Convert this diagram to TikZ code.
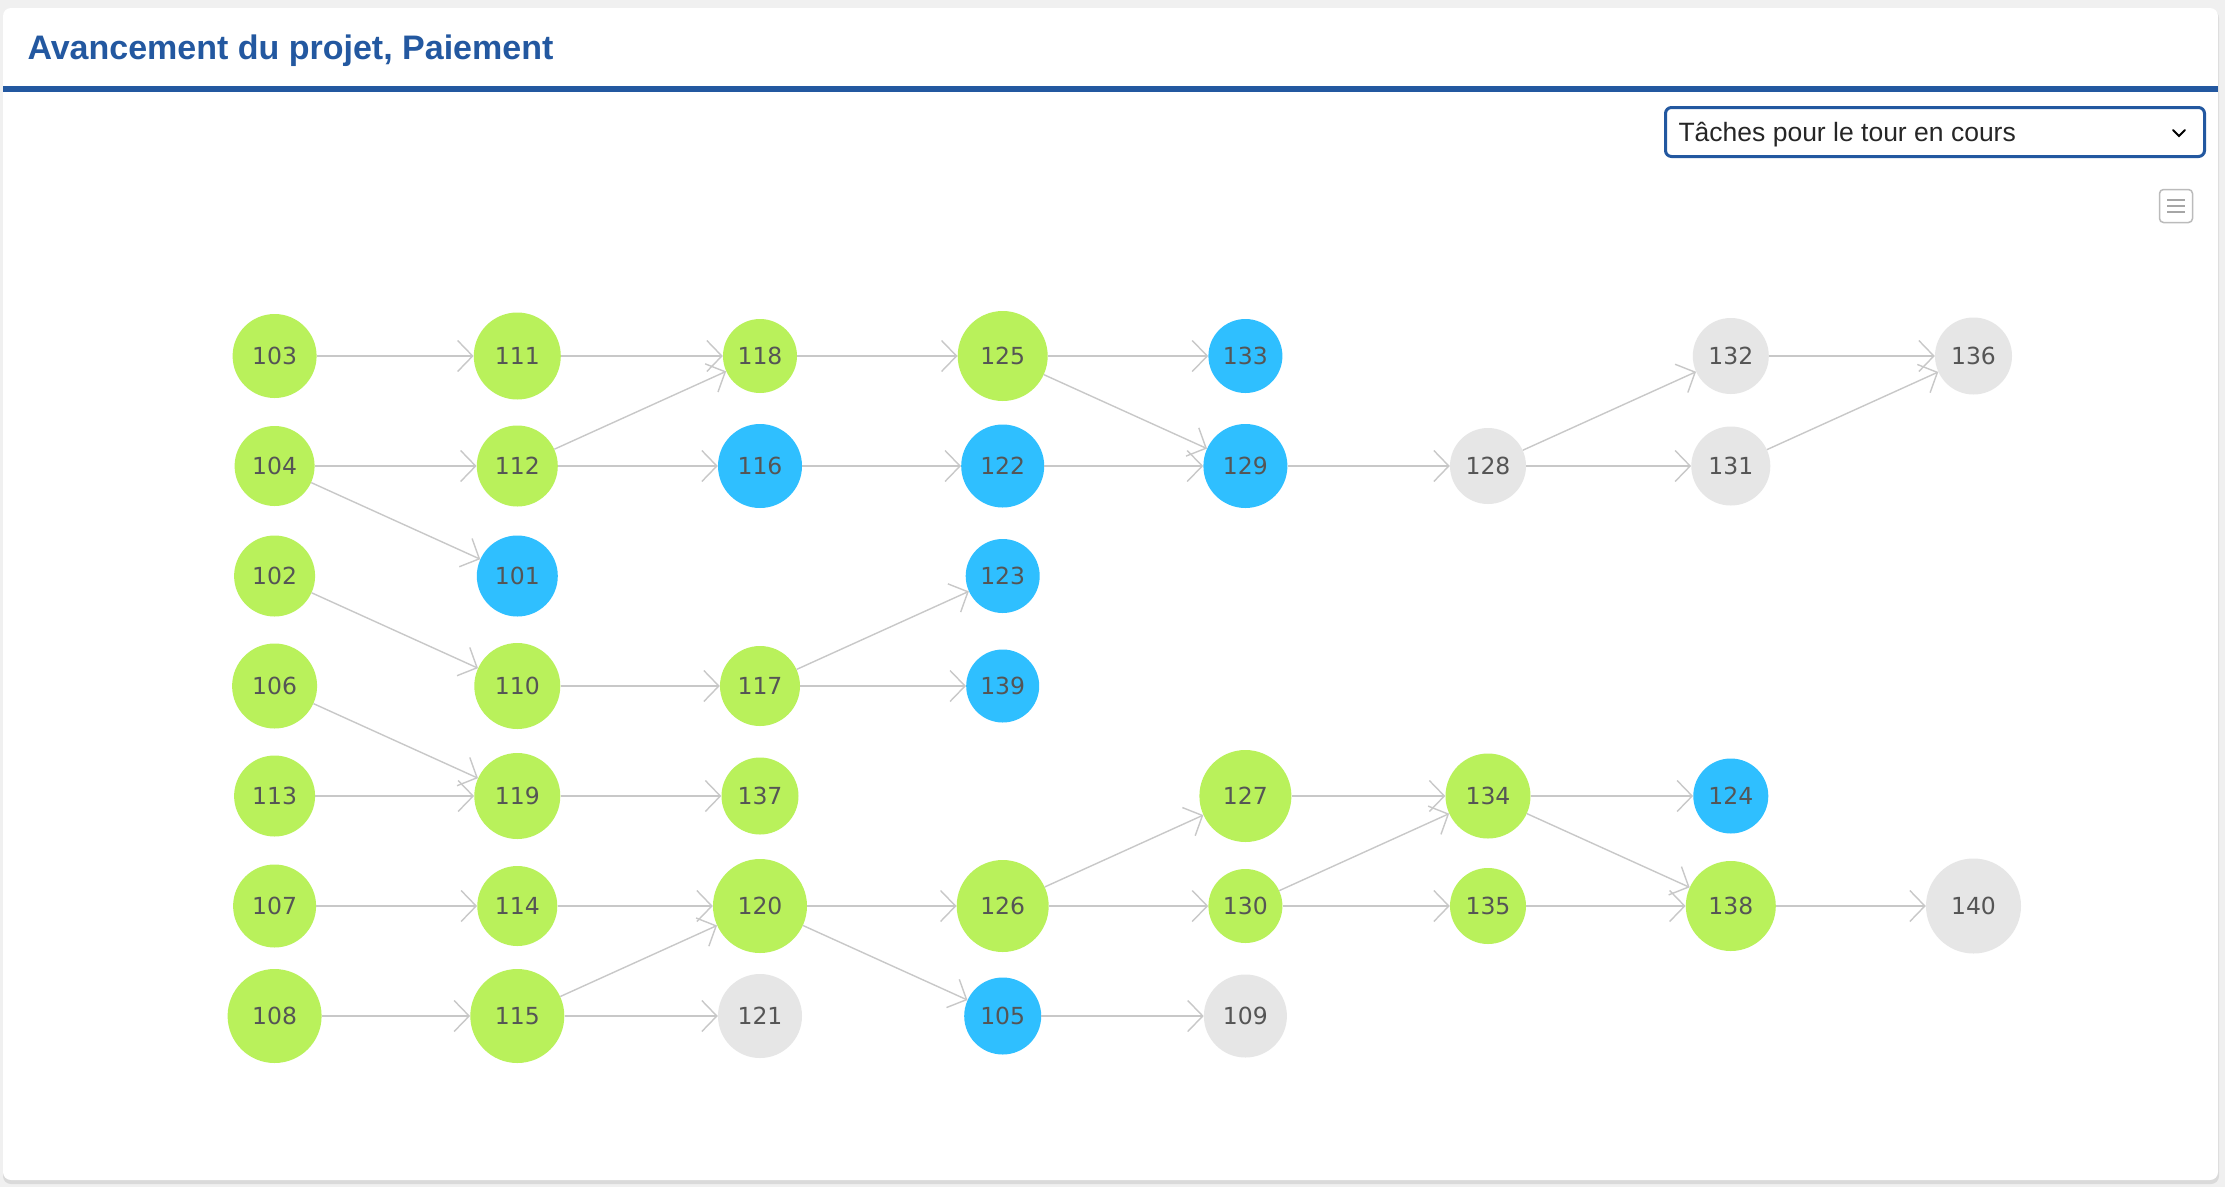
\documentclass[tikz,border=0pt]{standalone}
\usepackage{fontspec}
\setmainfont{Liberation Sans}
\newfontfamily\nodefont{DejaVu Sans}
\usetikzlibrary{arrows.meta}
\definecolor{pagegray}{HTML}{F0F0F0}
\definecolor{shadowgray}{HTML}{DADADA}
\definecolor{titleblue}{HTML}{2358A0}
\definecolor{taskgreen}{HTML}{B9F15B}
\definecolor{taskblue}{HTML}{2FBFFF}
\definecolor{taskgray}{HTML}{E6E6E6}
\definecolor{edgegray}{HTML}{C8C8C8}
\definecolor{labelgray}{HTML}{555555}
\definecolor{menugray}{HTML}{BBBBBB}
\tikzset{>={Straight Barb[length=15pt,width=31pt]}}
\tikzset{
  task/.style={circle, inner sep=0pt, text=labelgray, font=\nodefont\fontsize{23.5}{28}\selectfont},
  done/.style={task, fill=taskgreen},
  running/.style={task, fill=taskblue},
  waiting/.style={task, fill=taskgray},
  link/.style={draw=edgegray, line width=1.4pt, ->}
}

\begin{document}
\begin{tikzpicture}[x=1pt, y=-1pt]
      % page and panel
      \fill[pagegray] (0,0) rectangle (2225,1187);
      \useasboundingbox (0,0) rectangle (2225,1187);
      \fill[shadowgray, rounded corners=8pt] (3,10) rectangle (2219,1184);
      \fill[white, rounded corners=8pt] (3,8) rectangle (2218,1180);
      % header
      \node[anchor=base west, text=titleblue, font=\fontsize{34}{40}\selectfont\bfseries] (title) at (24,59) {Avancement du projet, Paiement};
      \fill[titleblue] (3,86) rectangle (2218,92);
      % select box
      \node[draw=titleblue, line width=3pt, rounded corners=6pt, minimum width=539pt, minimum height=49pt, inner sep=0pt] (select) at (1935,132) {};
      \node[anchor=base west, text=black!85, font=\fontsize{26.5}{32}\selectfont] (selecttext) at (1675,141.7) {Tâches pour le tour en cours};
      \draw[line width=2pt, line cap=round] (2173,130) -- (2179,136) -- (2185,130);
      % menu icon
      \node[draw=menugray, line width=1.5pt, rounded corners=4pt, minimum size=33pt, inner sep=0pt] (menu) at (2176,206) {};
      \draw[gray!70, line width=1.6pt] (2167,200) -- (2185,200);
      \draw[gray!70, line width=1.6pt] (2167,206) -- (2185,206);
      \draw[gray!70, line width=1.6pt] (2167,212) -- (2185,212);
      % row 1
      \node[done, minimum size=84pt] (n103) at (274.6,356) {103};
      \node[done, minimum size=87pt] (n111) at (517.3,356) {111};
      \node[done, minimum size=74pt] (n118) at (760,356) {118};
      \node[done, minimum size=90pt] (n125) at (1002.7,356) {125};
      \node[running, minimum size=74pt] (n133) at (1245.4,356) {133};
      \node[waiting, minimum size=76pt] (n132) at (1730.8,356) {132};
      \node[waiting, minimum size=77pt] (n136) at (1973.5,356) {136};
      % row 2
      \node[done, minimum size=80pt] (n104) at (274.6,466) {104};
      \node[done, minimum size=81pt] (n112) at (517.3,466) {112};
      \node[running, minimum size=84pt] (n116) at (760,466) {116};
      \node[running, minimum size=83pt] (n122) at (1002.7,466) {122};
      \node[running, minimum size=84pt] (n129) at (1245.4,466) {129};
      \node[waiting, minimum size=76pt] (n128) at (1488,466) {128};
      \node[waiting, minimum size=79pt] (n131) at (1730.8,466) {131};
      % row 3
      \node[done, minimum size=81pt] (n102) at (274.6,576) {102};
      \node[running, minimum size=81pt] (n101) at (517.3,576) {101};
      \node[running, minimum size=74pt] (n123) at (1002.7,576) {123};
      % row 4
      \node[done, minimum size=85pt] (n106) at (274.6,686) {106};
      \node[done, minimum size=86pt] (n110) at (517.3,686) {110};
      \node[done, minimum size=80pt] (n117) at (760,686) {117};
      \node[running, minimum size=73pt] (n139) at (1002.7,686) {139};
      % row 5
      \node[done, minimum size=81pt] (n113) at (274.6,796) {113};
      \node[done, minimum size=86pt] (n119) at (517.3,796) {119};
      \node[done, minimum size=77pt] (n137) at (760,796) {137};
      \node[done, minimum size=92pt] (n127) at (1245.4,796) {127};
      \node[done, minimum size=85pt] (n134) at (1488,796) {134};
      \node[running, minimum size=75pt] (n124) at (1730.8,796) {124};
      % row 6
      \node[done, minimum size=83pt] (n107) at (274.6,906) {107};
      \node[done, minimum size=80pt] (n114) at (517.3,906) {114};
      \node[done, minimum size=94pt] (n120) at (760,906) {120};
      \node[done, minimum size=92pt] (n126) at (1002.7,906) {126};
      \node[done, minimum size=74pt] (n130) at (1245.4,906) {130};
      \node[done, minimum size=76pt] (n135) at (1488,906) {135};
      \node[done, minimum size=90pt] (n138) at (1730.8,906) {138};
      \node[waiting, minimum size=95pt] (n140) at (1973.5,906) {140};
      % row 7
      \node[done, minimum size=94pt] (n108) at (274.6,1016) {108};
      \node[done, minimum size=94pt] (n115) at (517.3,1016) {115};
      \node[waiting, minimum size=84pt] (n121) at (760,1016) {121};
      \node[running, minimum size=77pt] (n105) at (1002.7,1016) {105};
      \node[waiting, minimum size=83pt] (n109) at (1245.4,1016) {109};
      % links
      \draw[link] (n103) -- (n111);
      \draw[link] (n111) -- (n118);
      \draw[link] (n118) -- (n125);
      \draw[link] (n125) -- (n133);
      \draw[link] (n125) -- (n129);
      \draw[link] (n104) -- (n112);
      \draw[link] (n104) -- (n101);
      \draw[link] (n112) -- (n118);
      \draw[link] (n112) -- (n116);
      \draw[link] (n116) -- (n122);
      \draw[link] (n122) -- (n129);
      \draw[link] (n129) -- (n128);
      \draw[link] (n128) -- (n132);
      \draw[link] (n128) -- (n131);
      \draw[link] (n132) -- (n136);
      \draw[link] (n131) -- (n136);
      \draw[link] (n102) -- (n110);
      \draw[link] (n110) -- (n117);
      \draw[link] (n117) -- (n123);
      \draw[link] (n117) -- (n139);
      \draw[link] (n106) -- (n119);
      \draw[link] (n113) -- (n119);
      \draw[link] (n119) -- (n137);
      \draw[link] (n107) -- (n114);
      \draw[link] (n114) -- (n120);
      \draw[link] (n108) -- (n115);
      \draw[link] (n115) -- (n120);
      \draw[link] (n115) -- (n121);
      \draw[link] (n120) -- (n126);
      \draw[link] (n120) -- (n105);
      \draw[link] (n105) -- (n109);
      \draw[link] (n126) -- (n127);
      \draw[link] (n126) -- (n130);
      \draw[link] (n127) -- (n134);
      \draw[link] (n130) -- (n134);
      \draw[link] (n130) -- (n135);
      \draw[link] (n134) -- (n124);
      \draw[link] (n134) -- (n138);
      \draw[link] (n135) -- (n138);
      \draw[link] (n138) -- (n140);
    \end{tikzpicture}
\end{document}
